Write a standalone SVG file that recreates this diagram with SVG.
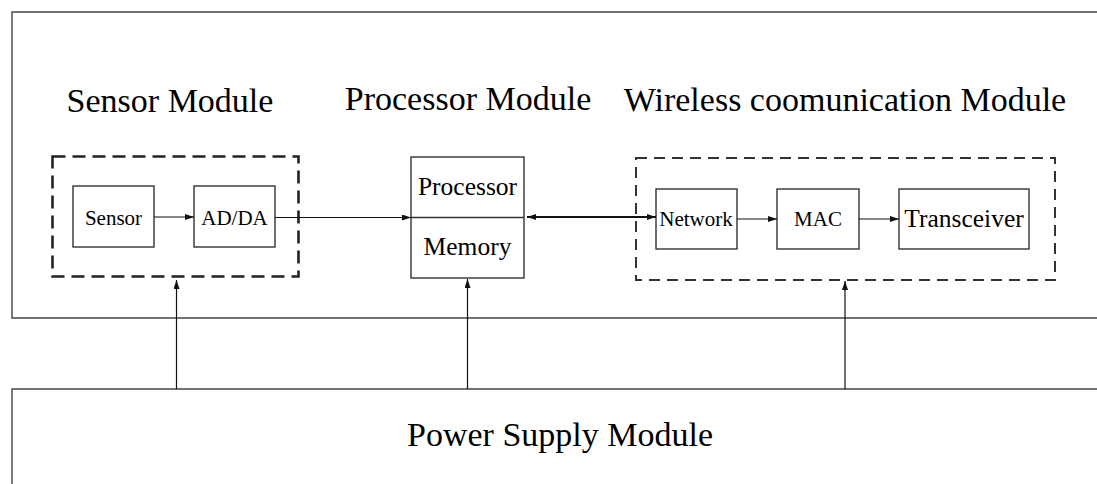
<svg xmlns="http://www.w3.org/2000/svg" width="1097" height="484" viewBox="0 0 1097 484">
<style>
text{font-family:"Liberation Serif","Times New Roman",serif;fill:#000}
.big{font-size:34px}
.mid{font-size:25.5px}
.sm{font-size:21px}
.box{fill:none;stroke:#333;stroke-width:1.4}
.frame{fill:none;stroke:#444;stroke-width:1.4}
.dash1{fill:none;stroke:#222;stroke-width:2.6;stroke-dasharray:13 7}
.dash2{fill:none;stroke:#333;stroke-width:2;stroke-dasharray:11 7}
.con{fill:none;stroke:#111;stroke-width:1.2}
.con2{fill:none;stroke:#111;stroke-width:2}
</style>
<defs>
<marker id="ah" markerWidth="9" markerHeight="6" refX="9" refY="3" orient="auto" markerUnits="userSpaceOnUse">
<path d="M0,0 L9,3 L0,6 Z" fill="#111"/>
</marker>
<marker id="ahs" markerWidth="9" markerHeight="6" refX="0" refY="3" orient="auto" markerUnits="userSpaceOnUse">
<path d="M9,0 L0,3 L9,6 Z" fill="#111"/>
</marker>
</defs>
<rect width="1097" height="484" fill="#fff"/>
<g id="main-frame">
<path class="frame" d="M1100,12 H12 V318 H1100"/>
</g>
<g id="power-supply">
<path class="frame" d="M1100,389 H12 V490"/>
<text class="big" x="560" y="446" text-anchor="middle">Power Supply Module</text>
</g>
<g id="sensor-module">
<text class="big" x="170" y="112" text-anchor="middle">Sensor Module</text>
<rect class="dash1" x="52.5" y="156.5" width="246" height="120"/>
</g>
<g id="sensor">
<rect class="box" x="73" y="186" width="81" height="61"/>
<text class="sm" x="113.5" y="225" text-anchor="middle">Sensor</text>
</g>
<g id="adda">
<rect class="box" x="194" y="186" width="81" height="61"/>
<text class="sm" x="234.5" y="225" text-anchor="middle">AD/DA</text>
</g>
<g id="processor-module">
<text class="big" x="468" y="110" text-anchor="middle">Processor Module</text>
<rect class="box" x="411" y="157" width="113" height="121"/>
<line class="box" x1="411" y1="217.5" x2="524" y2="217.5"/>
<text class="mid" x="467.5" y="195" text-anchor="middle">Processor</text>
<text class="mid" x="467.5" y="255" text-anchor="middle">Memory</text>
</g>
<g id="wireless-module">
<text class="big" x="845" y="111" text-anchor="middle">Wireless coomunication Module</text>
<rect class="dash2" x="636" y="158" width="419" height="122"/>
</g>
<g id="network">
<rect class="box" x="656" y="189" width="81" height="60"/>
<text class="sm" x="696" y="226" text-anchor="middle">Network</text>
</g>
<g id="mac">
<rect class="box" x="777" y="189" width="82" height="60"/>
<text class="sm" x="818" y="226" text-anchor="middle">MAC</text>
</g>
<g id="transceiver">
<rect class="box" x="899" y="189" width="130" height="60"/>
<text class="mid" x="964" y="227" text-anchor="middle">Transceiver</text>
</g>
<g id="connectors">
<line class="con" x1="154" y1="217" x2="194" y2="217" marker-end="url(#ah)"/>
<line class="con" x1="275" y1="217.5" x2="411" y2="217.5" marker-end="url(#ah)"/>
<line class="con2" x1="527" y1="217" x2="656" y2="217" marker-start="url(#ahs)" marker-end="url(#ah)"/>
<line class="con" x1="737" y1="219" x2="777" y2="219" marker-end="url(#ah)"/>
<line class="con" x1="859" y1="219" x2="899" y2="219" marker-end="url(#ah)"/>
<line class="con" x1="176.5" y1="389" x2="176.5" y2="280" marker-end="url(#ah)"/>
<line class="con" x1="467.5" y1="389" x2="467.5" y2="279" marker-end="url(#ah)"/>
<line class="con" x1="845" y1="389" x2="845" y2="281" marker-end="url(#ah)"/>
</g>
</svg>
